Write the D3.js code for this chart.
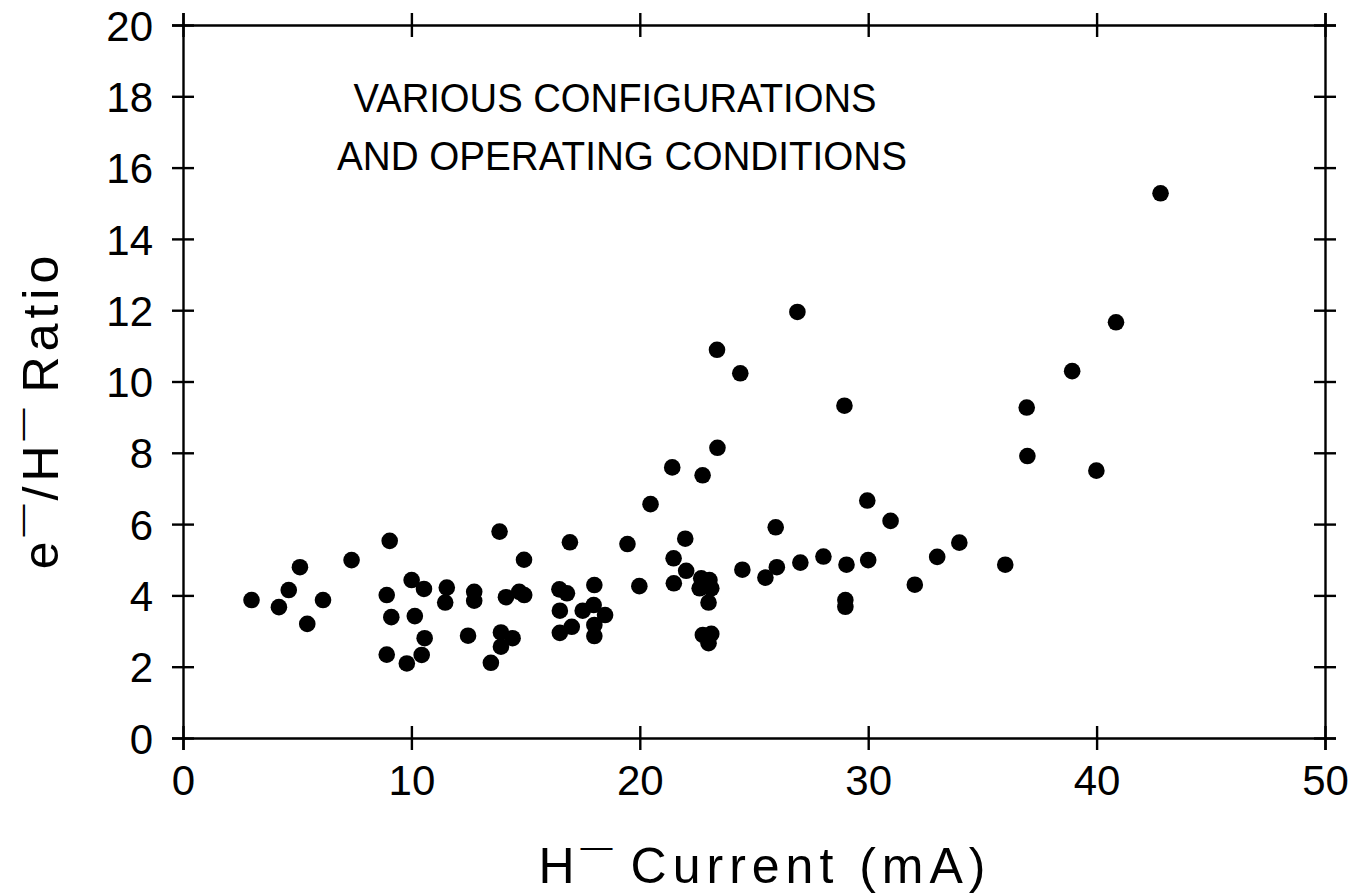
<!DOCTYPE html>
<html>
<head>
<meta charset="utf-8">
<script src="https://cdn.jsdelivr.net/npm/d3@7"></script>
<style>
  html, body { margin: 0; padding: 0; background: #fff; }
  svg { display: block; }
  text { font-family: "Liberation Sans", Arial, sans-serif; fill: #000; }
</style>
</head>
<body>
<svg id="chart" width="1361" height="894"></svg>
<script>
// H- current (mA)
const current = [
  3.0, 4.2, 4.63, 5.12, 5.44, 6.13, 7.38, 8.92, 9.05, 9.12,
  8.92, 9.8, 10.01, 10.55, 10.15, 10.58, 10.45, 11.55, 11.48, 12.75,
  12.75, 12.48, 13.48, 13.86, 13.92, 14.43, 13.92, 14.14, 14.72, 14.94,
  14.93, 16.48, 16.81, 16.94, 16.5, 16.5, 17.02, 17.5, 17.98, 18.01,
  18.48, 18.01, 18.01, 19.46, 19.98, 20.47, 21.42, 21.48, 21.49, 21.99,
  22.03, 22.75, 22.69, 23.05, 22.62, 23.13, 23.01, 22.76, 23.13, 23.01,
  23.38, 23.4, 24.4, 24.49, 25.5, 25.95, 26.0, 26.9, 27.03, 28.04,
  28.96, 29.05, 29.0, 29.0, 29.96, 30.0, 30.98, 32.04, 33.02, 33.99,
  36.0, 36.94, 36.97, 38.93, 39.99, 40.85, 42.8
];
// e-/H- ratio
const ratio = [
  3.87, 3.67, 4.15, 4.79, 3.2, 3.87, 4.99, 4.01, 5.53, 3.39,
  2.34, 2.09, 4.43, 4.18, 3.42, 2.80, 2.33, 4.22, 3.80, 4.10,
  3.85, 2.87, 2.11, 5.79, 2.96, 2.80, 2.56, 3.95, 4.10, 4.01,
  5.0, 4.17, 4.06, 5.49, 3.57, 2.95, 3.12, 3.57, 3.73, 4.29,
  3.45, 3.17, 2.86, 5.44, 4.26, 6.56, 7.59, 5.04, 4.34, 5.59,
  4.69, 7.37, 4.48, 4.43, 4.2, 4.2, 3.80, 2.89, 2.92, 2.66,
  10.89, 8.14, 10.23, 4.72, 4.50, 5.91, 4.79, 11.95, 4.92, 5.09,
  9.32, 4.86, 3.87, 3.68, 6.66, 4.99, 6.09, 4.30, 5.08, 5.48,
  4.86, 9.27, 7.91, 10.29, 7.50, 11.66, 15.28
];
const xTicks = [0, 10, 20, 30, 40, 50];
const yTicks = [0, 2, 4, 6, 8, 10, 12, 14, 16, 18, 20];
const noteLines = ["VARIOUS CONFIGURATIONS", "AND OPERATING CONDITIONS"];

const svg = d3.select("#chart");
const L = 183, R = 1325, T = 25, B = 738;

const x = d3.scaleLinear().domain([0, 50]).range([L, R]);
const y = d3.scaleLinear().domain([0, 20]).range([B, T]);

const sw = 2.4;
function crossTicks(g, orient) {
  g.select(".domain").attr("stroke", "#000").attr("stroke-width", sw);
  g.selectAll(".tick line").attr("stroke", "#000").attr("stroke-width", sw);
  if (orient === "v") g.selectAll(".tick line").attr("x1", -11).attr("x2", 11);
  else g.selectAll(".tick line").attr("y1", -12).attr("y2", 12);
}

// bottom axis
const gb = svg.append("g").attr("transform", `translate(0,${B})`)
  .call(d3.axisBottom(x).tickValues(xTicks).tickSizeOuter(0).tickSize(12).tickFormat(d3.format("d")));
crossTicks(gb, "h");
gb.selectAll(".tick text").attr("font-size", 42).attr("y", 57).attr("dy", 0)
  .style("font-family", "Liberation Sans, Arial, sans-serif");

// top axis
const gt = svg.append("g").attr("transform", `translate(0,${T})`)
  .call(d3.axisTop(x).tickValues(xTicks).tickSizeOuter(0).tickSize(12).tickFormat(""));
crossTicks(gt, "h");

// left axis
const gl = svg.append("g").attr("transform", `translate(${L},0)`)
  .call(d3.axisLeft(y).tickValues(yTicks).tickSizeOuter(0).tickSize(11).tickFormat(d3.format("d")));
crossTicks(gl, "v");
gl.selectAll(".tick text").attr("font-size", 42).attr("x", -30).attr("dy", "0.36em")
  .style("font-family", "Liberation Sans, Arial, sans-serif");

// right axis
const gr = svg.append("g").attr("transform", `translate(${R},0)`)
  .call(d3.axisRight(y).tickValues(yTicks).tickSizeOuter(0).tickSize(11).tickFormat(""));
crossTicks(gr, "v");

// points
svg.append("g").selectAll("circle")
  .data(current.map((c, i) => [c, ratio[i]]))
  .join("circle")
  .attr("cx", d => x(d[0]))
  .attr("cy", d => y(d[1]))
  .attr("r", 8.3)
  .attr("fill", "#000");

// annotation
svg.append("g").selectAll("text")
  .data(noteLines)
  .join("text")
  .attr("x", (d, i) => i === 0 ? 615 : 622)
  .attr("y", (d, i) => 112 + i * 58)
  .attr("text-anchor", "middle")
  .attr("font-size", 40)
  .attr("textLength", (d, i) => i === 0 ? 523 : 570)
  .attr("lengthAdjust", "spacingAndGlyphs")
  .text(d => d);

// x axis title
const xt = svg.append("text")
  .attr("x", 765).attr("y", 883)
  .attr("text-anchor", "middle")
  .attr("font-size", 50)
  .style("letter-spacing", "6px");
xt.append("tspan").text("H");
xt.append("tspan").attr("dy", -26).attr("font-size", 32).style("letter-spacing", "0px").text("\u2014");
xt.append("tspan").attr("dy", 26).attr("dx", 18).text("Current (mA)");

// y axis title
const yt = svg.append("text")
  .attr("transform", "translate(58,410) rotate(-90)")
  .attr("text-anchor", "middle")
  .attr("font-size", 50)
  .style("letter-spacing", "5px");
yt.append("tspan").text("e");
yt.append("tspan").attr("dy", -26).attr("font-size", 32).style("letter-spacing", "0px").text("\u2014");
yt.append("tspan").attr("dy", 26).attr("dx", 4).text("/H");
yt.append("tspan").attr("dy", -26).attr("font-size", 32).style("letter-spacing", "0px").text("\u2014");
yt.append("tspan").attr("dy", 26).attr("dx", 16).text("Ratio");
</script>
</body>
</html>
